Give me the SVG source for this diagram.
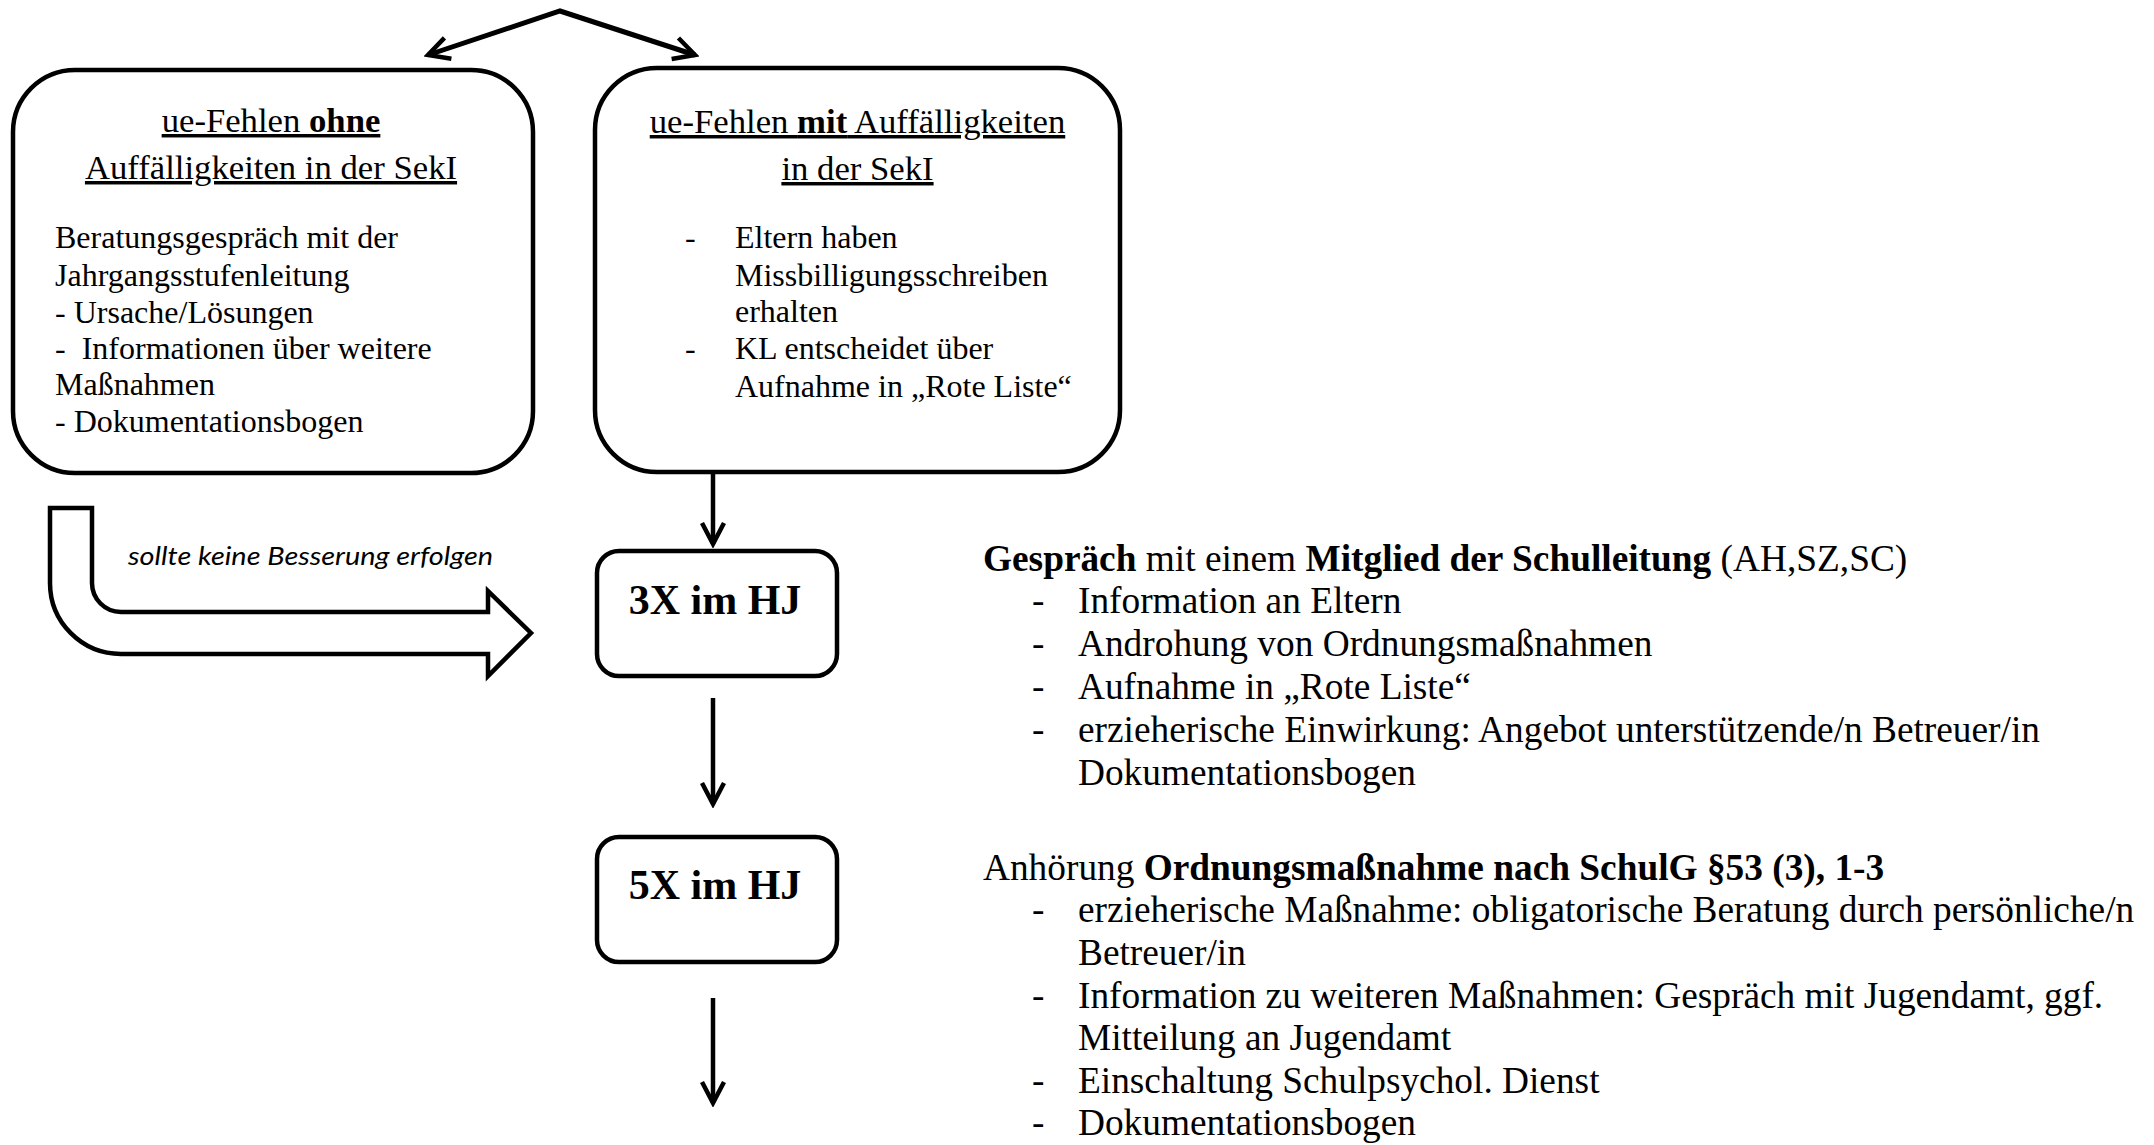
<svg xmlns="http://www.w3.org/2000/svg" width="2154" height="1145" viewBox="0 0 2154 1145">
<defs>
<style>
.t{font-family:"Liberation Serif","Times New Roman",serif;fill:#000}
.b{font-size:32px}
.h{font-size:34.7px;text-decoration:underline}
.r{font-size:37.33px}
.big{font-size:42px;font-weight:bold}
.bold{font-weight:bold}
.box{fill:#fff;stroke:#000;stroke-width:4.5}
.ln{fill:none;stroke:#000;stroke-width:4.5}
.note{font-family:Lato,"Open Sans",sans-serif;font-style:italic;font-size:26px;fill:#000}
</style>
<marker id="arr" viewBox="-28 -16 32 32" refX="0" refY="0" markerWidth="32" markerHeight="32" markerUnits="userSpaceOnUse" orient="auto-start-reverse">
<path d="M-21,-11 L0,0 L-21,11" fill="none" stroke="#000" stroke-width="4.5"/>
</marker>
</defs>
<rect width="2154" height="1145" fill="#fff"/>

<g id="connectors">
<path class="ln" style="stroke-width:5" d="M428,55 L560,11 L695,55" marker-start="url(#arr)" marker-end="url(#arr)"/>
<path class="ln" d="M713,474 V544" marker-end="url(#arr)"/>
<path class="ln" d="M713,698 V804" marker-end="url(#arr)"/>
<path class="ln" d="M713,998 V1103" marker-end="url(#arr)"/>
<g id="bent-arrow">
<path class="box" d="M50,508 H92 V583 A29,29 0 0 0 121,612 H488 V591 L531,633 L488,676 V654 H121 A71,71 0 0 1 50,583 Z"/>
<text class="note" x="128" y="565" textLength="365" lengthAdjust="spacingAndGlyphs">sollte keine Besserung erfolgen</text>
</g>
</g>

<g id="node-ohne">
<rect class="box" x="13" y="70" width="520" height="403" rx="62" ry="62"/>
<text class="t h" x="271" y="132" text-anchor="middle">ue-Fehlen <tspan class="bold">ohne</tspan></text>
<text class="t h" x="271" y="179" text-anchor="middle">Auffälligkeiten in der SekI</text>
<text class="t b" x="55" y="248">Beratungsgespräch mit der</text>
<text class="t b" x="55" y="286">Jahrgangsstufenleitung</text>
<text class="t b" x="55" y="323">- Ursache/Lösungen</text>
<text class="t b" x="55" y="359" xml:space="preserve">-  Informationen über weitere</text>
<text class="t b" x="55" y="395">Maßnahmen</text>
<text class="t b" x="55" y="432">- Dokumentationsbogen</text>
</g>

<g id="node-mit">
<rect class="box" x="595" y="68" width="525" height="404" rx="62" ry="62"/>
<text class="t h" x="857.5" y="133" text-anchor="middle">ue-Fehlen <tspan class="bold">mit</tspan> Auffälligkeiten</text>
<text class="t h" x="857.5" y="180" text-anchor="middle">in der SekI</text>
<text class="t b" x="685" y="248">-</text>
<text class="t b" x="735" y="248">Eltern haben</text>
<text class="t b" x="735" y="286">Missbilligungsschreiben</text>
<text class="t b" x="735" y="322">erhalten</text>
<text class="t b" x="685" y="359">-</text>
<text class="t b" x="735" y="359">KL entscheidet über</text>
<text class="t b" x="735" y="397">Aufnahme in „Rote Liste“</text>
</g>

<g id="node-3x">
<rect class="box" x="597" y="551" width="240" height="125" rx="22" ry="22"/>
<text class="t big" x="715" y="614" text-anchor="middle">3X im HJ</text>
</g>

<g id="node-5x">
<rect class="box" x="597" y="837" width="240" height="125" rx="22" ry="22"/>
<text class="t big" x="715" y="899" text-anchor="middle">5X im HJ</text>
</g>

<g id="text-gespraech">
<text class="t r" x="983" y="571"><tspan class="bold">Gespräch</tspan> mit einem <tspan class="bold">Mitglied der Schulleitung</tspan> (AH,SZ,SC)</text>
<text class="t r" x="1032" y="613">-</text>
<text class="t r" x="1078" y="613">Information an Eltern</text>
<text class="t r" x="1032" y="656">-</text>
<text class="t r" x="1078" y="656">Androhung von Ordnungsmaßnahmen</text>
<text class="t r" x="1032" y="699">-</text>
<text class="t r" x="1078" y="699">Aufnahme in „Rote Liste“</text>
<text class="t r" x="1032" y="742">-</text>
<text class="t r" x="1078" y="742">erzieherische Einwirkung: Angebot unterstützende/n Betreuer/in</text>
<text class="t r" x="1078" y="785">Dokumentationsbogen</text>
</g>

<g id="text-anhoerung">
<text class="t r" x="983" y="880">Anhörung <tspan class="bold">Ordnungsmaßnahme nach SchulG §53 (3), 1-3</tspan></text>
<text class="t r" x="1032" y="922">-</text>
<text class="t r" x="1078" y="922">erzieherische Maßnahme: obligatorische Beratung durch persönliche/n</text>
<text class="t r" x="1078" y="965">Betreuer/in</text>
<text class="t r" x="1032" y="1008">-</text>
<text class="t r" x="1078" y="1008">Information zu weiteren Maßnahmen: Gespräch mit Jugendamt, ggf.</text>
<text class="t r" x="1078" y="1050">Mitteilung an Jugendamt</text>
<text class="t r" x="1032" y="1093">-</text>
<text class="t r" x="1078" y="1093">Einschaltung Schulpsychol. Dienst</text>
<text class="t r" x="1032" y="1135">-</text>
<text class="t r" x="1078" y="1135">Dokumentationsbogen</text>
</g>
</svg>
